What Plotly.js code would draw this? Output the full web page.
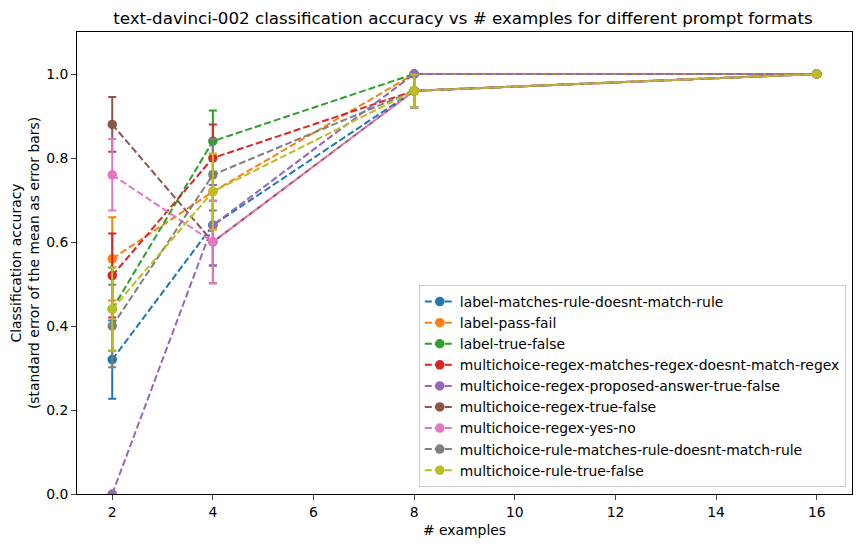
<!DOCTYPE html>
<html>
<head>
<meta charset="utf-8">
<script src="https://cdn.plot.ly/plotly-3.0.1.min.js"></script>
<style>html,body{margin:0;padding:0;background:#fff;}#chart{width:862px;height:547px;}</style>
</head>
<body>
<div id="chart"></div>
<script>
const examples = [2, 4, 8, 16];
const seriesNames = [
  "label-matches-rule-doesnt-match-rule",
  "label-pass-fail",
  "label-true-false",
  "multichoice-regex-matches-regex-doesnt-match-regex",
  "multichoice-regex-proposed-answer-true-false",
  "multichoice-regex-true-false",
  "multichoice-regex-yes-no",
  "multichoice-rule-matches-rule-doesnt-match-rule",
  "multichoice-rule-true-false"
];
const colors = ["#1f77b4","#ff7f0e","#2ca02c","#d62728","#9467bd","#8c564b","#e377c2","#7f7f7f","#bcbd22"];

const accLabelMatchesRule = [0.32, 0.64, 0.96, 1.0];
const accLabelPassFail    = [0.56, 0.72, 1.0, 1.0];
const accLabelTrueFalse   = [0.44, 0.84, 1.0, 1.0];
const accMcRegexMatches   = [0.52, 0.80, 0.96, 1.0];
const accMcRegexProposed  = [0.00, 0.64, 1.0, 1.0];
const accMcRegexTrueFalse = [0.88, 0.60, 0.96, 1.0];
const accMcRegexYesNo     = [0.76, 0.60, 0.96, 1.0];
const accMcRuleMatches    = [0.40, 0.76, 0.96, 1.0];
const accMcRuleTrueFalse  = [0.44, 0.72, 0.96, 1.0];

const errLabelMatchesRule = [0.093, 0.096, 0.039, 0];
const errLabelPassFail    = [0.099, 0.090, 0, 0];
const errLabelTrueFalse   = [0.099, 0.073, 0, 0];
const errMcRegexMatches   = [0.100, 0.080, 0.039, 0];
const errMcRegexProposed  = [0, 0.096, 0, 0];
const errMcRegexTrueFalse = [0.065, 0.098, 0.039, 0];
const errMcRegexYesNo     = [0.085, 0.098, 0.039, 0];
const errMcRuleMatches    = [0.098, 0.085, 0.039, 0];
const errMcRuleTrueFalse  = [0.099, 0.090, 0.039, 0];

const accs = [accLabelMatchesRule, accLabelPassFail, accLabelTrueFalse, accMcRegexMatches,
  accMcRegexProposed, accMcRegexTrueFalse, accMcRegexYesNo, accMcRuleMatches, accMcRuleTrueFalse];
const errs = [errLabelMatchesRule, errLabelPassFail, errLabelTrueFalse, errMcRegexMatches,
  errMcRegexProposed, errMcRegexTrueFalse, errMcRegexYesNo, errMcRuleMatches, errMcRuleTrueFalse];

const font = "DejaVu Sans, sans-serif";
const traces = seriesNames.map((name, i) => ({
  x: examples,
  y: accs[i],
  name: name,
  type: "scatter",
  mode: "lines+markers",
  line: {color: colors[i], width: 2, dash: "7px,3px"},
  marker: {color: colors[i], size: 9.5},
  error_y: {type: "data", array: errs[i], visible: true, color: colors[i], thickness: 2, width: 4}
}));

const layout = {
  width: 862, height: 547,
  margin: {l: 77, r: 10, t: 32, b: 53},
  paper_bgcolor: "#fff", plot_bgcolor: "#fff",
  font: {family: font, size: 13.9, color: "#000"},
  title: {text: "text-davinci-002 classification accuracy vs # examples for different prompt formats",
    font: {family: font, size: 16.7, color: "#000"}, x: 0.537, xanchor: "center", y: 0.967, yanchor: "middle"},
  showlegend: true,
  legend: {x: 0.992, xanchor: "right", y: 0.015, yanchor: "bottom", bgcolor: "rgba(255,255,255,0.8)",
    bordercolor: "#cccccc", borderwidth: 1, font: {family: font, size: 13.9, color: "#000"},
    tracegroupgap: 0, itemwidth: 30},
  xaxis: {
    range: [1.3, 16.7], tickvals: [2,4,6,8,10,12,14,16], ticks: "outside", ticklen: 5, tickwidth: 1,
    showgrid: false, zeroline: false, showline: true, linecolor: "#000", linewidth: 1, mirror: true,
    title: {text: "# examples", font: {family: font, size: 13.9, color: "#000"}, standoff: 6}
  },
  yaxis: {
    range: [0, 1.1], tickvals: [0,0.2,0.4,0.6,0.8,1.0], tickformat: ".1f", ticks: "outside", ticklen: 5, tickwidth: 1,
    showgrid: false, zeroline: false, showline: true, linecolor: "#000", linewidth: 1, mirror: true,
    title: {text: "Classification accuracy<br>(standard error of the mean as error bars)",
      font: {family: font, size: 13.9, color: "#000"}, standoff: 3}
  }
};

Plotly.newPlot("chart", traces, layout, {displayModeBar: false, staticPlot: true});
</script>
</body>
</html>
